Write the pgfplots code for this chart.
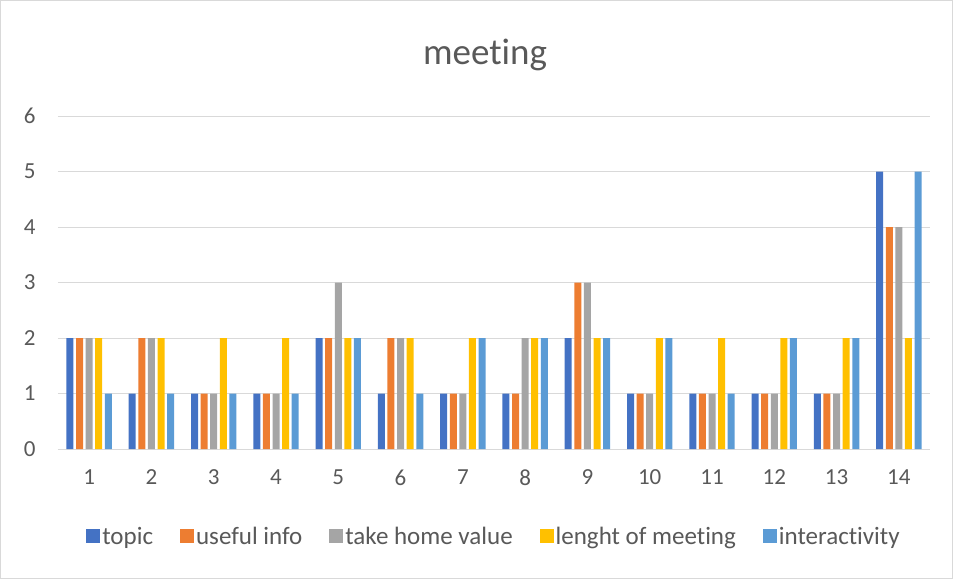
\documentclass[border=0pt]{standalone}
\usepackage{pgfplots}
\usepackage{fontspec}
\setmainfont{Carlito}[Ligatures=NoCommon]
\pgfplotsset{compat=1.18}
\definecolor{cTopic}{HTML}{4472C4}
\definecolor{cUseful}{HTML}{ED7D31}
\definecolor{cTake}{HTML}{A5A5A5}
\definecolor{cLength}{HTML}{FFC000}
\definecolor{cInter}{HTML}{5B9BD5}
\definecolor{txtgray}{HTML}{595959}
\definecolor{gridgray}{HTML}{D9D9D9}
\begin{document}
\begin{tikzpicture}
\useasboundingbox (-58pt,-130pt) rectangle (895pt,449pt);
\draw[gridgray, line width=0.8pt] (-57.5pt,-129.5pt) rectangle (894.5pt,448.5pt);
\begin{axis}[
    at={(0,0)}, anchor=south west,
    scale only axis,
    width=872pt, height=333pt,
    ybar=2.6pt, bar width=7pt,
    xmin=0.5, xmax=14.5,
    ymin=0, ymax=6,
    xtick={1,...,14}, ytick={0,...,6},
    axis line style={draw=none},
    ymajorgrids, grid style={gridgray, line width=1pt},
    major tick length=0pt,
    tick label style={font=\fontsize{23}{26}\selectfont, text=txtgray},
    /pgf/number format/assume math mode=true,
    yticklabel style={xshift=-19pt},
    xticklabel style={yshift=-17pt},
    title={meeting},
    title style={font=\fontsize{37}{42}\selectfont, text=txtgray, at={(0.5,1)}, anchor=center, yshift=55pt, xshift=-9pt},
    legend columns=5,
    legend style={draw=none, at={(0.5,0)}, anchor=center, yshift=-88pt,
        font=\fontsize{25}{29}\selectfont, text=txtgray,
        /tikz/every even column/.append style={column sep=25pt}},
    legend image code/.code={\fill[#1] (0pt,-6pt) rectangle (14pt,8pt);},
    every axis plot/.append style={draw=none},
]
\addplot[fill=cTopic] coordinates {(1,2) (2,1) (3,1) (4,1) (5,2) (6,1) (7,1) (8,1) (9,2) (10,1) (11,1) (12,1) (13,1) (14,5)};
\addplot[fill=cUseful] coordinates {(1,2) (2,2) (3,1) (4,1) (5,2) (6,2) (7,1) (8,1) (9,3) (10,1) (11,1) (12,1) (13,1) (14,4)};
\addplot[fill=cTake] coordinates {(1,2) (2,2) (3,1) (4,1) (5,3) (6,2) (7,1) (8,2) (9,3) (10,1) (11,1) (12,1) (13,1) (14,4)};
\addplot[fill=cLength] coordinates {(1,2) (2,2) (3,2) (4,2) (5,2) (6,2) (7,2) (8,2) (9,2) (10,2) (11,2) (12,2) (13,2) (14,2)};
\addplot[fill=cInter] coordinates {(1,1) (2,1) (3,1) (4,1) (5,2) (6,1) (7,2) (8,2) (9,2) (10,2) (11,1) (12,2) (13,2) (14,5)};
\legend{topic, useful info, take home value, lenght of meeting, interactivity}
\end{axis}
\end{tikzpicture}
\end{document}
